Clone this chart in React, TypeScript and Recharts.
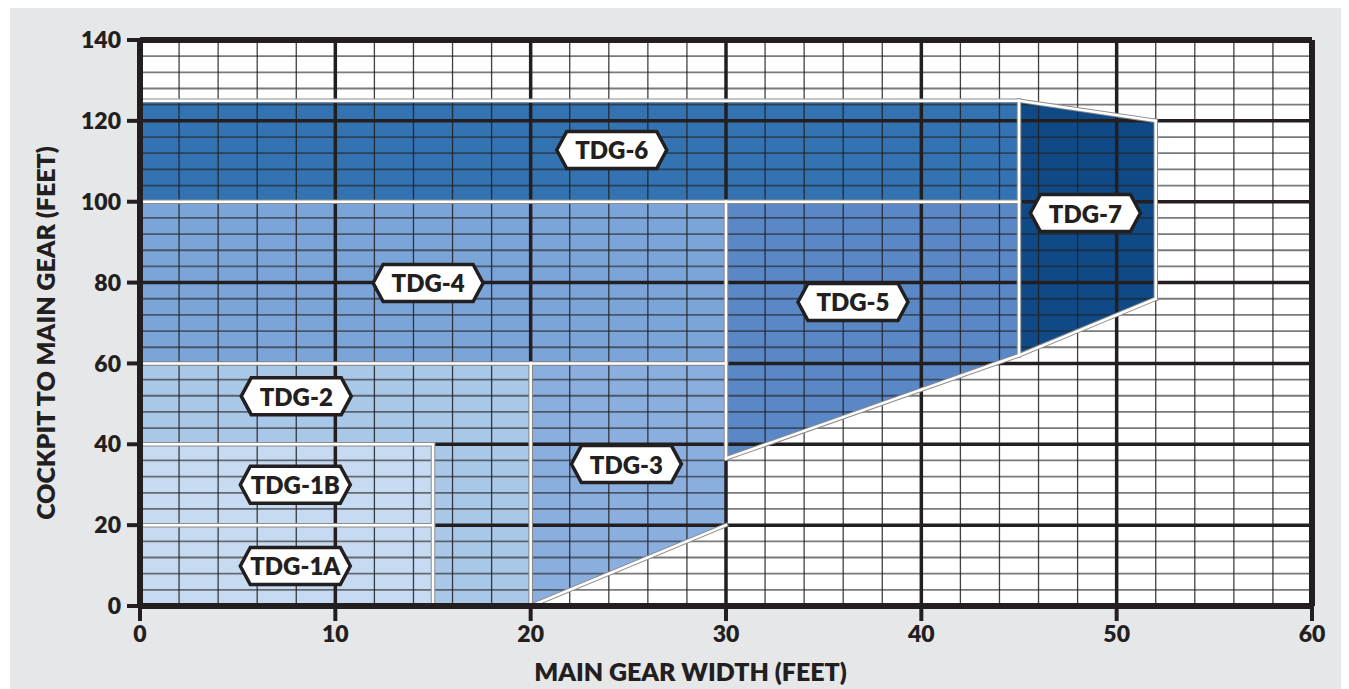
import React from 'react';
import {
  ComposedChart,
  Area,
  XAxis,
  YAxis,
  CartesianGrid,
  ReferenceLine,
  ReferenceDot,
} from 'recharts';

const FONT = 'Lato, "Open Sans", sans-serif';
const INK = '#231f20';

// Axis ticks
const X_TICKS = [0, 10, 20, 30, 40, 50, 60];
const Y_TICKS = [0, 20, 40, 60, 80, 100, 120, 140];
const X_MINOR = [0, 2, 4, 6, 8, 10, 12, 14, 16, 18, 20, 22, 24, 26, 28, 30, 32, 34, 36, 38, 40, 42, 44, 46, 48, 50, 52, 54, 56, 58, 60];
const Y_MINOR = [4, 8, 12, 16, 24, 28, 32, 36, 44, 48, 52, 56, 64, 68, 72, 76, 84, 88, 92, 96, 104, 108, 112, 116, 124, 128, 132, 136];
const X_MAJOR = [10, 20, 30, 40, 50];
const Y_MAJOR = [20, 40, 60, 80, 100, 120];

// Region outlines: main gear width (x) vs cockpit-to-main-gear range (lo..hi)
const TDG_2 = [{ x: 0, lo: 0, hi: 60 }, { x: 20, lo: 0, hi: 60 }];
const TDG_1B = [{ x: 0, lo: 20, hi: 40 }, { x: 15, lo: 20, hi: 40 }];
const TDG_1A = [{ x: 0, lo: 0, hi: 20 }, { x: 15, lo: 0, hi: 20 }];
const TDG_3 = [{ x: 20, lo: 0, hi: 60 }, { x: 30, lo: 20, hi: 60 }];
const TDG_4 = [{ x: 0, lo: 60, hi: 100 }, { x: 30, lo: 60, hi: 100 }];
const TDG_5 = [{ x: 30, lo: 36.5, hi: 100 }, { x: 45, lo: 62, hi: 100 }];
const TDG_6 = [{ x: 0, lo: 100, hi: 125 }, { x: 45, lo: 100, hi: 125 }];
const TDG_7 = [{ x: 45, lo: 62, hi: 125 }, { x: 52, lo: 76, hi: 120 }];

const REGIONS = [
  { key: 'tdg2', points: TDG_2, color: '#a9c7e7' },
  { key: 'tdg1b', points: TDG_1B, color: '#c6dbf1' },
  { key: 'tdg1a', points: TDG_1A, color: '#c6dbf1' },
  { key: 'tdg3', points: TDG_3, color: '#8aaedd' },
  { key: 'tdg4', points: TDG_4, color: '#7ba5d8' },
  { key: 'tdg5', points: TDG_5, color: '#5a88c7' },
  { key: 'tdg6', points: TDG_6, color: '#3473b1' },
  { key: 'tdg7', points: TDG_7, color: '#0f4a87' },
];

// Region boundary lines
const BORDERS = [
  [[0, 20], [15, 20]],
  [[0, 40], [15, 40]],
  [[15, 0], [15, 40]],
  [[0, 60], [30, 60]],
  [[20, 0], [20, 60]],
  [[20, 0], [30, 20]],
  [[30, 36.5], [30, 100]],
  [[0, 100], [45, 100]],
  [[30, 36.5], [45, 62]],
  [[45, 62], [45, 125]],
  [[0, 125], [45, 125]],
  [[45, 125], [52, 120]],
  [[52, 120], [52, 76]],
  [[52, 76], [45, 62]],
];

// Labels
const LABELS = [
  { name: 'TDG-6', x: 24.15, y: 112.8 },
  { name: 'TDG-4', x: 14.75, y: 79.9 },
  { name: 'TDG-2', x: 8.0, y: 51.9 },
  { name: 'TDG-1B', x: 7.95, y: 30.0 },
  { name: 'TDG-1A', x: 7.95, y: 9.9 },
  { name: 'TDG-3', x: 24.9, y: 35.1 },
  { name: 'TDG-5', x: 36.5, y: 75.2 },
  { name: 'TDG-7', x: 48.4, y: 97.2 },
];

const xs = Array.from(new Set(REGIONS.flatMap((r) => r.points.map((p) => p.x)))).sort((a, b) => a - b);
const TABLE = xs.map((x) => {
  const row: any = { x };
  REGIONS.forEach((r) => {
    const p = r.points.find((pt) => pt.x === x);
    row[r.key] = p ? [p.lo, p.hi] : null;
  });
  return row;
});

const Badge = ({ cx, cy, text }: { cx: number; cy: number; text: string }) => {
  const w = 110;
  const h = 37;
  const p = 10;
  const pts = [
    [cx - w / 2, cy],
    [cx - w / 2 + p, cy - h / 2],
    [cx + w / 2 - p, cy - h / 2],
    [cx + w / 2, cy],
    [cx + w / 2 - p, cy + h / 2],
    [cx - w / 2 + p, cy + h / 2],
  ]
    .map((q) => q.join(','))
    .join(' ');
  return (
    <g>
      <polygon points={pts} fill="#fff" stroke={INK} strokeWidth={3.5} strokeLinejoin="miter" />
      <text
        x={cx}
        y={cy}
        textAnchor="middle"
        dominantBaseline="central"
        fontFamily={FONT}
        fontWeight={800}
        fontSize={24}
        fill={INK}
      >
        {text}
      </text>
    </g>
  );
};

const tickStyle = { fill: INK, fontSize: 23, fontWeight: 800, fontFamily: FONT };
const titleStyle = { fill: INK, fontSize: 25, fontWeight: 800, fontFamily: FONT };

export default function App() {
  return (
    <div style={{ marginLeft: 2, marginTop: -1, width: 1339, height: 682, background: '#e6e7e8' }}>
      <ComposedChart
        width={1339}
        height={682}
        data={TABLE}
        margin={{ top: 33, right: 37, left: 0, bottom: 0 }}
      >
        <CartesianGrid fill="#ffffff" horizontal={false} vertical={false} />
        <XAxis
          type="number"
          dataKey="x"
          domain={[0, 60]}
          ticks={X_TICKS}
          interval={0}
          height={83}
          tick={tickStyle}
          tickSize={15}
          tickMargin={5}
          tickLine={{ stroke: INK, strokeWidth: 4 }}
          axisLine={{ stroke: INK, strokeWidth: 6 }}
          label={{ value: 'MAIN GEAR WIDTH (FEET)', position: 'center', dx: -35.5, dy: 24.5, style: titleStyle }}
        />
        <YAxis
          type="number"
          domain={[0, 140]}
          ticks={Y_TICKS}
          interval={0}
          width={130}
          tick={tickStyle}
          tickSize={13}
          tickMargin={6}
          tickLine={{ stroke: INK, strokeWidth: 4 }}
          axisLine={{ stroke: INK, strokeWidth: 6 }}
          label={{ value: 'COCKPIT TO MAIN GEAR (FEET)', angle: -90, position: 'center', dx: -29, dy: 10, style: titleStyle }}
        />
        <XAxis xAxisId="g" type="number" dataKey="x" domain={[0, 60]} ticks={X_MINOR} interval={0} hide />

        {REGIONS.map((r) => (
          <Area
            key={r.key}
            type="linear"
            dataKey={r.key}
            fill={r.color}
            fillOpacity={1}
            stroke="none"
            connectNulls
            dot={false}
            activeDot={false}
            isAnimationActive={false}
            zIndex={100}
          />
        ))}

        <CartesianGrid
          xAxisId="g"
          horizontal={false}
          stroke={INK}
          strokeWidth={1.3}
          strokeOpacity={0.85}
          zIndex={150}
        />
        {Y_MINOR.map((v) => (
          <ReferenceLine key={'ny' + v} y={v} stroke={INK} strokeWidth={1.8} strokeOpacity={0.6} zIndex={155} />
        ))}

        {X_MAJOR.map((v) => (
          <ReferenceLine key={'mx' + v} x={v} stroke={INK} strokeWidth={3.5} zIndex={160} />
        ))}
        {Y_MAJOR.map((v) => (
          <ReferenceLine key={'my' + v} y={v} stroke={INK} strokeWidth={3.5} zIndex={160} />
        ))}
        <ReferenceLine y={140} stroke={INK} strokeWidth={6} zIndex={170} />
        <ReferenceLine x={60} stroke={INK} strokeWidth={6} zIndex={170} />

        {BORDERS.map((b, i) => (
          <ReferenceLine
            key={'bo' + i}
            segment={[{ x: b[0][0], y: b[0][1] }, { x: b[1][0], y: b[1][1] }]}
            stroke="#8c8c8c"
            strokeWidth={4.5}
            strokeLinecap="square"
            zIndex={180}
          />
        ))}
        {BORDERS.map((b, i) => (
          <ReferenceLine
            key={'bw' + i}
            segment={[{ x: b[0][0], y: b[0][1] }, { x: b[1][0], y: b[1][1] }]}
            stroke="#ffffff"
            strokeWidth={2.5}
            strokeLinecap="square"
            zIndex={190}
          />
        ))}

        {LABELS.map((l) => (
          <ReferenceDot
            key={l.name}
            x={l.x}
            y={l.y}
            r={1}
            zIndex={2000}
            shape={(props: any) => <Badge cx={props.cx} cy={props.cy} text={l.name} />}
          />
        ))}
      </ComposedChart>
    </div>
  );
}
